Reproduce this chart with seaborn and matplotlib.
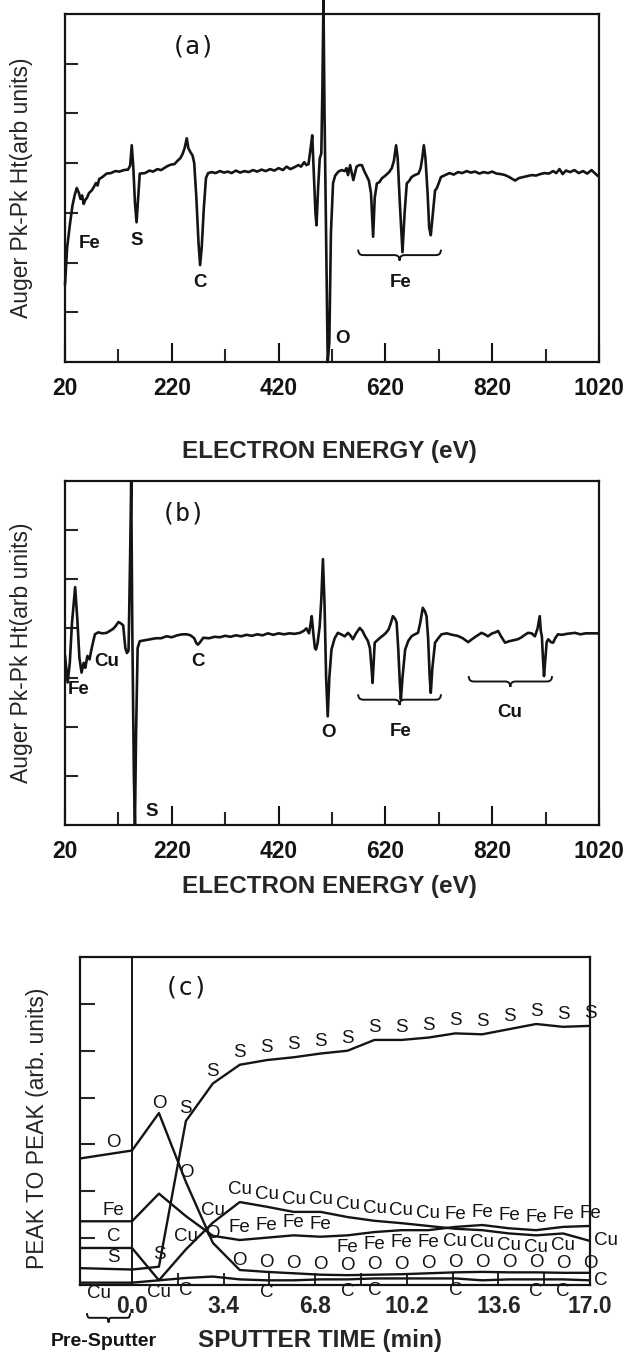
import numpy as np
import pandas as pd
import matplotlib
matplotlib.use("Agg")
import matplotlib.pyplot as plt
import seaborn as sns
from matplotlib import font_manager
from matplotlib.path import Path
from matplotlib.patches import PathPatch

# ---------------- data ----------------
# (a) Auger spectrum, as received
A_EV = [20, 24, 29, 34, 38, 42, 46, 49, 52, 55, 58, 61, 65, 70, 74, 78, 81, 84, 90, 98,
        106, 114, 122, 130, 138, 142, 145, 148, 151, 154, 157, 160, 170, 178, 185, 193, 200,
        210, 218, 225, 230, 236, 240, 244, 248, 251, 255, 259, 262, 266, 270, 273, 276, 280,
        284, 288, 295, 302, 310, 318, 325, 332, 340, 348, 356, 364, 372, 380, 388, 396, 404,
        412, 420, 428, 435, 442, 450, 457, 462, 468, 472, 476, 480, 483, 486, 489, 491, 494,
        497, 500, 502, 504, 506, 509, 512, 515, 518, 522, 526, 532, 538, 544, 547, 550, 554,
        557, 560, 563, 566, 571, 576, 580, 584, 589, 593, 597, 600, 604, 609, 613, 620, 627,
        632, 636, 640, 643, 647, 652, 656, 660, 665, 669, 675, 682, 686, 689, 692, 695, 699,
        702, 705, 709, 713, 716, 720, 724, 732, 740, 748, 756, 764, 772, 780, 788, 796, 804,
        812, 820, 828, 836, 844, 852, 858, 863, 870, 878, 886, 894, 902, 910, 918, 926, 934,
        940, 946, 952, 958, 966, 974, 982, 990, 998, 1006, 1012, 1018]
A_SIG = [1.55, 2.3, 2.75, 3.15, 3.35, 3.5, 3.4, 3.28, 3.35, 3.18, 3.26, 3.3, 3.4, 3.45, 3.52,
         3.6, 3.55, 3.68, 3.72, 3.79, 3.8, 3.84, 3.83, 3.86, 3.87, 3.95, 4.36, 3.9, 3.2, 2.81,
         3.3, 3.79, 3.8, 3.85, 3.83, 3.88, 3.86, 3.93, 3.97, 3.98, 4.04, 4.1, 4.18, 4.3, 4.5,
         4.3, 4.22, 4.15, 4.0, 3.3, 2.4, 1.95, 2.3, 3.1, 3.7, 3.8, 3.82, 3.8, 3.84, 3.81,
         3.83, 3.8, 3.85, 3.81, 3.84, 3.82, 3.86, 3.83, 3.87, 3.84, 3.88, 3.85, 3.9, 3.86,
         3.93, 3.88, 3.92, 3.96, 3.93, 4.02, 3.96, 3.98, 4.3, 4.56, 3.8, 3.0, 2.75, 3.5, 4.09,
         4.2, 5.5, 7.3, 5.0, 2.5, 0.0, 0.4, 2.6, 3.6, 3.75, 3.83, 3.86, 3.84, 3.9, 3.76, 3.96,
         3.8, 3.66, 3.8, 3.93, 3.96, 3.96, 3.85, 3.76, 3.65, 3.4, 2.52, 3.3, 3.59, 3.62, 3.69,
         3.75, 3.82, 3.9, 4.05, 4.36, 4.1, 3.2, 2.21, 3.0, 3.59, 3.65, 3.72, 3.76, 3.79, 3.9,
         4.1, 4.36, 4.1, 3.4, 2.7, 2.55, 3.0, 3.45, 3.49, 3.6, 3.72, 3.76, 3.8, 3.77, 3.82,
         3.8, 3.84, 3.81, 3.83, 3.79, 3.82, 3.8, 3.83, 3.79, 3.78, 3.76, 3.72, 3.68, 3.65,
         3.7, 3.72, 3.74, 3.76, 3.75, 3.78, 3.8, 3.79, 3.84, 3.8, 3.88, 3.78, 3.85, 3.82,
         3.86, 3.8, 3.84, 3.79, 3.86, 3.8, 3.74]

# (b) Auger spectrum, after sputtering
B_EV = [20, 25, 29, 33, 39, 43, 47, 51, 55, 58, 62, 66, 70, 76, 82, 90, 98, 104, 110, 115,
        120, 125, 129, 133, 136, 139, 142, 144, 146, 149, 151, 153, 156, 160, 170, 180, 190,
        200, 210, 220, 230, 240, 248, 255, 262, 266, 269, 273, 279, 290, 300, 310, 320, 330,
        340, 350, 360, 370, 380, 390, 400, 410, 420, 430, 440, 450, 460, 467, 472, 477, 480,
        482, 485, 488, 490, 493, 497, 500, 503, 506, 509, 512, 515, 519, 525, 531, 537, 544,
        550, 555, 559, 565, 572, 577, 582, 587, 591, 594, 596, 598, 600, 605, 610, 616, 621,
        626, 630, 634, 638, 641, 644, 647, 649, 652, 657, 663, 669, 675, 681, 685, 690, 694,
        697, 700, 703, 705, 708, 713, 719, 725, 735, 745, 755, 765, 775, 782, 790, 800, 806,
        812, 820, 826, 831, 836, 844, 852, 860, 868, 875, 880, 887, 894, 900, 905, 909, 911,
        913, 915, 917, 919, 922, 925, 930, 934, 938, 943, 950, 960, 968, 975, 985, 995, 1005,
        1018]
B_SIG = [3.45, 2.9, 3.3, 4.1, 4.84, 4.2, 3.4, 3.1, 3.3, 3.2, 3.44, 3.37, 3.6, 3.88, 3.92,
         3.9, 3.91, 3.95, 3.99, 4.05, 4.13, 4.1, 4.06, 3.6, 3.5, 3.55, 5.5, 7.0, 4.0, 1.0,
         0.0, 1.8, 3.6, 3.74, 3.76, 3.78, 3.8, 3.8, 3.84, 3.82, 3.86, 3.88, 3.88, 3.86, 3.8,
         3.7, 3.67, 3.72, 3.81, 3.8, 3.83, 3.82, 3.85, 3.83, 3.86, 3.84, 3.87, 3.85, 3.88,
         3.86, 3.9, 3.87, 3.9, 3.88, 3.9, 3.89, 3.91, 3.95, 4.0, 3.9, 4.1, 4.25, 3.9, 3.6,
         3.57, 3.7, 4.05, 4.6, 5.41, 4.5, 3.0, 2.21, 3.0, 3.57, 3.8, 3.91, 3.88, 3.84, 3.91,
         3.85, 3.78, 3.9, 4.01, 3.95, 3.84, 3.75, 3.6, 3.2, 2.89, 3.3, 3.71, 3.76, 3.81, 3.86,
         3.91, 3.98, 4.1, 4.25, 4.2, 4.12, 3.6, 2.9, 2.55, 3.0, 3.57, 3.75, 3.84, 3.88, 3.91,
         4.1, 4.42, 4.35, 4.25, 3.8, 3.0, 2.69, 3.2, 3.71, 3.8, 3.88, 3.9, 3.87, 3.85, 3.8,
         3.72, 3.78, 3.84, 3.91, 3.88, 3.84, 3.9, 3.92, 3.95, 3.85, 3.71, 3.74, 3.76, 3.78,
         3.82, 3.86, 3.91, 3.9, 3.84, 4.0, 4.25, 3.95, 3.84, 3.4, 3.03, 3.3, 3.72, 3.78, 3.72,
         3.71, 3.8, 3.88, 3.87, 3.89, 3.9, 3.91, 3.88, 3.9, 3.9, 3.9]

E_MAJOR = [20, 220, 420, 620, 820, 1020]
E_MINOR = [120, 320, 520, 720, 920]

# (c) depth profile: first entry = pre-sputter reading, then 0..17 min
TIME = [-1.93, 0, 1, 2, 3, 4, 5, 6, 7, 8, 9, 10, 11, 12, 13, 14, 15, 16, 17]
S_PP = [0.36, 0.33, 0.39, 3.5, 4.3, 4.7, 4.8, 4.86, 4.94, 5.0, 5.23, 5.23, 5.28, 5.37,
        5.35, 5.46, 5.57, 5.51, 5.53]
O_PP = [2.70, 2.87, 3.67, 2.2, 0.9, 0.32, 0.28, 0.25, 0.22, 0.21, 0.22, 0.23, 0.25, 0.27,
        0.28, 0.27, 0.27, 0.26, 0.26]
FE_PP = [1.36, 1.36, 1.95, 1.47, 1.05, 0.96, 1.01, 1.06, 1.03, 1.06, 1.13, 1.17, 1.17,
         1.24, 1.28, 1.21, 1.17, 1.24, 1.26]
CU_PP = [0.05, 0.05, 0.10, 0.76, 1.33, 1.77, 1.67, 1.56, 1.56, 1.45, 1.37, 1.32, 1.26,
         1.20, 1.17, 1.10, 1.06, 1.10, 0.94]
C_PP = [0.79, 0.79, 0.10, 0.15, 0.18, 0.12, 0.10, 0.10, 0.12, 0.12, 0.14, 0.14, 0.14,
        0.14, 0.10, 0.12, 0.12, 0.12, 0.10]
T_MAJOR = [0.0, 3.4, 6.8, 10.2, 13.6, 17.0]
T_MINOR = [1.7, 5.1, 8.5, 11.9, 15.3]

# ---------------- style ----------------
sns.set_theme(style="white")
avail = {f.name for f in font_manager.fontManager.ttflist}
SANS = "Liberation Sans" if "Liberation Sans" in avail else "DejaVu Sans"
HAS_NARROW = "Liberation Sans Narrow" in avail
NARROW = "Liberation Sans Narrow" if HAS_NARROW else SANS
plt.rcParams["font.family"] = [SANS, "DejaVu Sans"]
INK = "#141414"
plt.rcParams["text.color"] = INK

fig = plt.figure(figsize=(6.35, 13.54), dpi=100)
fig.patch.set_facecolor("white")
ax1 = fig.add_axes([65 / 635, 1 - 362 / 1354, 534 / 635, 348 / 1354])
ax2 = fig.add_axes([65 / 635, 1 - 825 / 1354, 534 / 635, 344 / 1354])
ax3 = fig.add_axes([80 / 635, 1 - 1285 / 1354, 510 / 635, 328 / 1354])

XL_FONT = dict(family=[NARROW, "DejaVu Sans"], weight="bold",
               size=21 if HAS_NARROW else 17.5)
YL_FONT = dict(family=[SANS, "DejaVu Sans"], size=16.5)
TICK_FONT = dict(family=[SANS, "DejaVu Sans"], weight="bold", size=16.5)
PK_FONT = dict(family=[SANS, "DejaVu Sans"], weight="bold", size=13.5)
PANEL_FONT = dict(family=["DejaVu Sans Mono"], size=18, weight="light")
C_SIZE = 15 if HAS_NARROW else 13.5
C_FAMILY = [NARROW, "DejaVu Sans"]


def frame(ax):
    for sp in ax.spines.values():
        sp.set_visible(True)
        sp.set_color(INK)
        sp.set_linewidth(1.6)
    ax.set_facecolor("white")
    ax.grid(False)


def brace(ax, x0, x1, y, d, **kw):
    xm = (x0 + x1) / 2.0
    q = (x1 - x0) * 0.06
    verts = [(x0, y + d), (x0, y), (x0 + q, y), (xm - q, y), (xm, y), (xm, y - d),
             (xm, y), (xm + q, y), (x1 - q, y), (x1, y), (x1, y + d)]
    codes = [Path.MOVETO, Path.CURVE3, Path.CURVE3, Path.LINETO, Path.CURVE3, Path.CURVE3,
             Path.CURVE3, Path.CURVE3, Path.LINETO, Path.CURVE3, Path.CURVE3]
    ax.add_patch(PathPatch(Path(verts, codes), fill=False, lw=1.4, ec=INK, **kw))


def spectrum_axes(ax, ev, sig):
    frame(ax)
    sns.lineplot(x=ev, y=sig, estimator=None, sort=False, color=INK, lw=1.9, ax=ax)
    ax.set_xlim(20, 1020)
    ax.set_ylim(0, 7)
    ax.set_xticks(E_MAJOR)
    ax.set_xticklabels([str(v) for v in E_MAJOR], fontdict=TICK_FONT)
    ax.set_xticks(E_MINOR, minor=True)
    ax.set_yticks([1, 2, 3, 4, 5, 6])
    ax.set_yticklabels([])
    ax.tick_params(axis="x", which="major", direction="in", length=14, width=1.5,
                   bottom=True, top=False, pad=11, colors=INK)
    ax.tick_params(axis="x", which="minor", direction="in", length=9.4, width=1.5,
                   bottom=True, top=False)
    ax.tick_params(axis="y", which="both", direction="in", length=9.4, width=1.5,
                   left=True, right=False)
    ax.set_ylabel("Auger Pk-Pk Ht(arb units)", fontdict=YL_FONT)
    ax.yaxis.label.set_va("center")
    ax.yaxis.set_label_coords(-0.081, 0.5)
    ax.set_xlabel("ELECTRON ENERGY (eV)", fontdict=XL_FONT)
    ax.xaxis.label.set_va("center")


# ---------------- (a) ----------------
spectrum_axes(ax1, A_EV, A_SIG)
ax1.lines[0].set_clip_on(False)
ax1.xaxis.set_label_coords(0.496, -0.2586)
ax1.text(260, 6.34, "(a)", ha="center", va="center", fontdict=PANEL_FONT)
ax1.text(67, 2.39, "Fe", ha="center", va="center", fontdict=PK_FONT)
ax1.text(155, 2.45, "S", ha="center", va="center", fontdict=PK_FONT)
ax1.text(273, 1.59, "C", ha="center", va="center", fontdict=PK_FONT)
ax1.text(539, 0.48, "O", ha="center", va="center", fontdict=PK_FONT)
brace(ax1, 569, 724, 2.15, 0.11)
ax1.text(649, 1.59, "Fe", ha="center", va="center", fontdict=PK_FONT)

# ---------------- (b) ----------------
spectrum_axes(ax2, B_EV, B_SIG)
ax2.xaxis.set_label_coords(0.496, -0.180)
ax2.text(241, 6.33, "(b)", ha="center", va="center", fontdict=PANEL_FONT)
ax2.text(46, 2.76, "Fe", ha="center", va="center", fontdict=PK_FONT)
ax2.text(99, 3.33, "Cu", ha="center", va="center", fontdict=PK_FONT)
ax2.text(269, 3.33, "C", ha="center", va="center", fontdict=PK_FONT)
ax2.text(183, 0.27, "S", ha="center", va="center", fontdict=PK_FONT)
ax2.text(513, 1.88, "O", ha="center", va="center", fontdict=PK_FONT)
brace(ax2, 569, 724, 2.55, 0.11)
ax2.text(649, 1.90, "Fe", ha="center", va="center", fontdict=PK_FONT)
brace(ax2, 776, 932, 2.92, 0.11)
ax2.text(853, 2.29, "Cu", ha="center", va="center", fontdict=PK_FONT)

# ---------------- (c) ----------------
frame(ax3)
series = {"S": S_PP, "O": O_PP, "Fe": FE_PP, "Cu": CU_PP, "C": C_PP}
df = pd.concat([pd.DataFrame({"time": TIME, "pp": vals, "element": name})
                for name, vals in series.items()], ignore_index=True)
sns.lineplot(data=df, x="time", y="pp", units="element", estimator=None, sort=False,
             color=INK, lw=1.7, ax=ax3)
ax3.axvline(0.0, color=INK, lw=1.4)
ax3.set_xlim(TIME[0], 17.0)
ax3.set_ylim(0, 7)
ax3.set_xticks(T_MAJOR)
ax3.set_xticklabels([f"{v:.1f}" for v in T_MAJOR], fontdict=TICK_FONT)
ax3.set_xticks(T_MINOR, minor=True)
ax3.set_yticks([1, 2, 3, 4, 5, 6])
ax3.set_yticklabels([])
ax3.tick_params(axis="x", which="both", direction="in", length=9, width=1.4,
                bottom=True, top=False, pad=7)
ax3.tick_params(axis="y", which="both", direction="in", length=11, width=1.5,
                left=True, right=False)
ax3.set_ylabel("PEAK TO PEAK (arb. units)", fontdict=YL_FONT)
ax3.yaxis.label.set_va("center")
ax3.yaxis.set_label_coords(-0.084, 0.479)
ax3.set_xlabel("SPUTTER TIME (min)", fontdict=XL_FONT)
ax3.xaxis.label.set_va("center")
ax3.xaxis.set_label_coords(0.4706, -0.168)
ax3.text(2.0, 6.34, "(c)", ha="center", va="center", fontdict=PANEL_FONT)

partner = {"Fe": CU_PP, "Cu": FE_PP}
first_label = {"S": 2, "O": 2, "Fe": 5, "Cu": 2, "C": 3}
up_off = {"S": 9, "O": 7, "Fe": 9, "Cu": 9, "C": 9}
last = len(TIME) - 1


def put(name, x, v, dx, dy, ha="center"):
    ax3.annotate(name, (x, v), xytext=(dx, dy), textcoords="offset points",
                 ha=ha, va="center", fontsize=C_SIZE, family=C_FAMILY,
                 annotation_clip=False)


for name, vals in series.items():
    other = partner.get(name)
    # pre-sputter label (lower labels sit further left, clear of the 0.0 tick label)
    frac = 0.64 if vals[0] >= 0.2 else 0.36
    xp = TIME[0] + frac * (TIME[1] - TIME[0])
    vp = vals[0] + frac * (vals[1] - vals[0])
    put(name, xp, vp, 0, -8 if vp < 0.2 else 8)
    for i in range(first_label[name], len(TIME)):
        v = vals[i]
        below = v < 0.2 or (other is not None and 0 < other[i] - v < 0.45)
        if below and i == last:
            put(name, TIME[i], v, 3, 0, ha="left")
            continue
        if below and v < 0.2 and min(abs(TIME[i] - t) for t in T_MAJOR) < 0.9:
            continue  # keep clear of the time tick labels
        put(name, TIME[i], v, 0, -9 if below else up_off[name])

brace(ax3, -1.67, -0.07, -0.70, 0.1, clip_on=False)
ax3.text(-1.04, -1.21, "Pre-Sputter", ha="center", va="center", clip_on=False,
         fontdict=dict(family=[NARROW, "DejaVu Sans"], weight="bold",
                       size=17 if HAS_NARROW else 14))

fig.savefig("out.png", dpi=100, facecolor="white")
